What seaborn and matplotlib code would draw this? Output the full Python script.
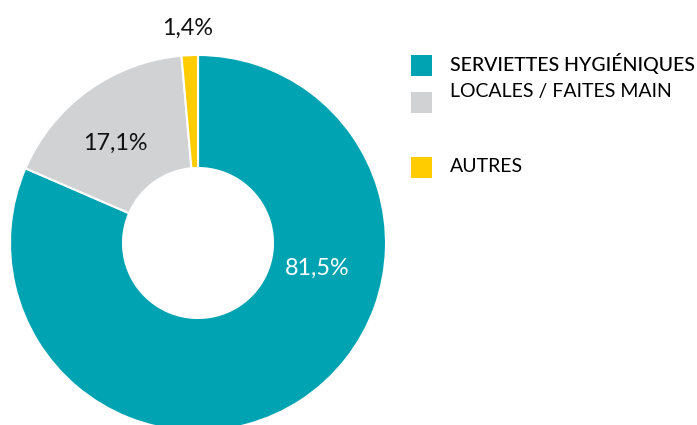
import numpy as np
import matplotlib
matplotlib.use("Agg")
import matplotlib.pyplot as plt
from matplotlib.patches import Rectangle
import seaborn as sns

categories = ["SERVIETTES HYGIÉNIQUES", "LOCALES / FAITES MAIN", "AUTRES"]
values = [81.5, 17.1, 1.4]
value_labels = ["81,5%", "17,1%", "1,4%"]
colors = ["#00A3B1", "#D1D2D4", "#FFCC00"]

sns.set_theme(style="white")
plt.rcParams["font.family"] = ["Lato", "DejaVu Sans"]

W, H = 697, 425
fig = plt.figure(figsize=(W / 100, H / 100), dpi=100)
cx, cy, R = 198, 425 - 243, 188
ax = fig.add_axes([(cx - R) / W, (cy - R) / H, 2 * R / W, 2 * R / H])
wedges, _ = ax.pie(values, colors=colors, startangle=90, counterclock=False,
                   wedgeprops=dict(width=113 / 188, edgecolor="white", linewidth=1.5))
ax.set_xlim(-1, 1)
ax.set_ylim(-1, 1)
ax.set_aspect("equal")

# label placement (angle in degrees, radius in axes units)
label_pos = [(-11.9, 0.65), (129.7, 0.69), (92.7, 1.145)]
label_colors = ["white", "#111111", "#111111"]
for txt, (a, r), c in zip(value_labels, label_pos, label_colors):
    ax.text(r * np.cos(np.radians(a)), r * np.sin(np.radians(a)), txt,
            ha="center", va="center", fontsize=16.8, color=c, clip_on=False)

# legend drawn manually
sq_tops = [55, 92, 157]
txt_y = [64, 91, 167]
weights = ["medium", "normal", "normal"]
for lab, col, top, ty, w in zip(categories, colors, sq_tops, txt_y, weights):
    fig.patches.append(Rectangle((411 / W, 1 - (top + 21) / H), 21 / W, 21 / H,
                                 transform=fig.transFigure, facecolor=col,
                                 edgecolor="none"))
    fig.text(450 / W, 1 - ty / H, lab, ha="left", va="center", fontsize=14,
             color="#000000", fontweight=w)

fig.savefig("out.png", dpi=100, facecolor="white")
